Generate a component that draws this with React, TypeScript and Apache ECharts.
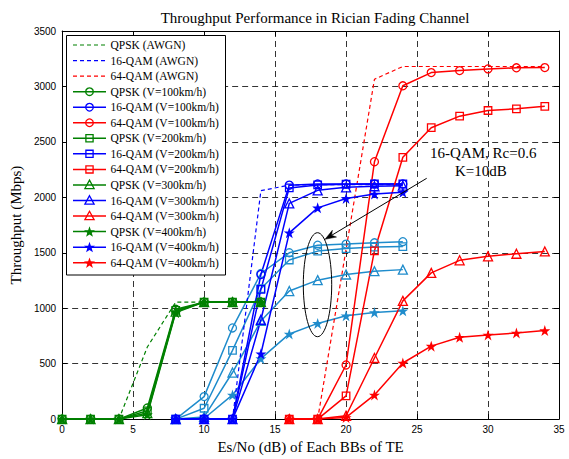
import React, { useEffect, useRef } from 'react';
import * as echarts from 'echarts';

// ---------- data ----------
const xQPSK = [0, 2, 4, 6, 8, 10, 12, 14];
const x16 = [8, 10, 12, 14, 16, 18, 20, 22, 24];
const x64 = [16, 18, 20, 22, 24, 26, 28, 30, 32, 34];

const qpskAwgn = [0, 0, 0, 650, 1055, 1055, 1055, 1055];
const qam16Awgn = [0, 0, 0, 2060, 2110, 2115, 2115, 2115, 2115];
const qam64Awgn = [0, 0, 1530, 3065, 3180, 3180, 3180, 3180, 3180, 3180];

const qpskV100 = [0, 0, 0, 100, 990, 1055, 1055, 1055];
const qpskV200 = [0, 0, 0, 75, 980, 1055, 1055, 1055];
const qpskV300 = [0, 0, 0, 55, 970, 1055, 1055, 1055];
const qpskV400 = [0, 0, 0, 40, 960, 1055, 1055, 1055];

const qam16V100 = [0, 0, 0, 1304, 2110, 2120, 2120, 2120, 2120];
const qam16V200 = [0, 0, 0, 1170, 2085, 2112, 2118, 2120, 2120];
const qam16V300 = [0, 0, 0, 896, 1945, 2063, 2090, 2100, 2105];
const qam16V400 = [0, 0, 0, 589, 1680, 1905, 1990, 2030, 2045];

const qam64V100 = [0, 0, 488, 2321, 3006, 3125, 3143, 3158, 3168, 3170];
const qam64V200 = [0, 0, 209, 1518, 2361, 2628, 2732, 2783, 2798, 2821];
const qam64V300 = [0, 0, 30, 551, 1066, 1319, 1432, 1468, 1491, 1512];
const qam64V400 = [0, 0, 15, 218, 506, 658, 738, 759, 777, 798];

// 16-QAM, Rc=0.6 (annotated group)
const qam16RcV100 = [0, 203, 822, 1313, 1500, 1568, 1578, 1590, 1600];
const qam16RcV200 = [0, 98, 620, 1176, 1435, 1515, 1538, 1551, 1556];
const qam16RcV300 = [0, 20, 420, 885, 1155, 1253, 1304, 1334, 1348];
const qam16RcV400 = [0, 5, 218, 545, 768, 863, 932, 962, 977];

const xTicks = [0, 5, 10, 15, 20, 25, 30, 35];
const yTicks = [0, 500, 1000, 1500, 2000, 2500, 3000, 3500];

const GREEN = '#008000';
const BLUE = '#0000ff';
const RED = '#ff0000';
const LIGHT = '#1f8ccc';

const STAR =
  'path://M50,0 L61.8,35.1 L98.9,35.1 L69.1,56.7 L80.9,91.9 L50,70.2 L19.1,91.9 L30.9,56.7 L1.1,35.1 L38.2,35.1 Z';

type Mk = 'none' | 'circle' | 'rect' | 'triangle' | 'star';

interface SDef {
  name: string;
  x: number[];
  y: number[];
  color: string;
  mk: Mk;
  dashed?: boolean;
  legend?: boolean;
}

const seriesDefs: SDef[] = [
  { name: 'Rc0.6 circle', x: x16, y: qam16RcV100, color: LIGHT, mk: 'circle' },
  { name: 'Rc0.6 square', x: x16, y: qam16RcV200, color: LIGHT, mk: 'rect' },
  { name: 'Rc0.6 triangle', x: x16, y: qam16RcV300, color: LIGHT, mk: 'triangle' },
  { name: 'Rc0.6 star', x: x16, y: qam16RcV400, color: LIGHT, mk: 'star' },
  { name: 'QPSK (AWGN)', x: xQPSK, y: qpskAwgn, color: GREEN, mk: 'none', dashed: true, legend: true },
  { name: '16-QAM (AWGN)', x: x16, y: qam16Awgn, color: BLUE, mk: 'none', dashed: true, legend: true },
  { name: '64-QAM (AWGN)', x: x64, y: qam64Awgn, color: RED, mk: 'none', dashed: true, legend: true },
  { name: 'QPSK (V=100km/h)', x: xQPSK, y: qpskV100, color: GREEN, mk: 'circle', legend: true },
  { name: '16-QAM (V=100km/h)', x: x16, y: qam16V100, color: BLUE, mk: 'circle', legend: true },
  { name: '64-QAM (V=100km/h)', x: x64, y: qam64V100, color: RED, mk: 'circle', legend: true },
  { name: 'QPSK (V=200km/h)', x: xQPSK, y: qpskV200, color: GREEN, mk: 'rect', legend: true },
  { name: '16-QAM (V=200km/h)', x: x16, y: qam16V200, color: BLUE, mk: 'rect', legend: true },
  { name: '64-QAM (V=200km/h)', x: x64, y: qam64V200, color: RED, mk: 'rect', legend: true },
  { name: 'QPSK (V=300km/h)', x: xQPSK, y: qpskV300, color: GREEN, mk: 'triangle', legend: true },
  { name: '16-QAM (V=300km/h)', x: x16, y: qam16V300, color: BLUE, mk: 'triangle', legend: true },
  { name: '64-QAM (V=300km/h)', x: x64, y: qam64V300, color: RED, mk: 'triangle', legend: true },
  { name: 'QPSK (V=400km/h)', x: xQPSK, y: qpskV400, color: GREEN, mk: 'star', legend: true },
  { name: '16-QAM (V=400km/h)', x: x16, y: qam16V400, color: BLUE, mk: 'star', legend: true },
  { name: '64-QAM (V=400km/h)', x: x64, y: qam64V400, color: RED, mk: 'star', legend: true },
];

const SERIF = '"Liberation Serif", "Times New Roman", serif';
const SANS = '"Liberation Sans", Arial, sans-serif';

function symbolFor(mk: Mk) {
  if (mk === 'star') return STAR;
  return mk;
}
function sizeFor(mk: Mk) {
  switch (mk) {
    case 'circle':
      return 8;
    case 'rect':
      return 7.5;
    case 'triangle':
      return 9;
    case 'star':
      return 11;
    default:
      return 0;
  }
}

function buildSeries() {
  return seriesDefs.map((d) => {
    const hollow = d.mk !== 'star';
    return {
      type: 'line',
      name: d.name,
      data: d.x.map((xv, i) => [xv, d.y[i]]),
      symbol: d.mk === 'none' ? 'none' : symbolFor(d.mk),
      symbolSize: sizeFor(d.mk),
      showSymbol: d.mk !== 'none',
      lineStyle: {
        color: d.color,
        width: d.dashed ? 1.2 : 1.5,
        type: d.dashed ? [4, 3] : 'solid',
      },
      itemStyle: hollow
        ? { color: 'rgba(0,0,0,0)', borderColor: d.color, borderWidth: 1.3 }
        : { color: d.color, borderColor: d.color, borderWidth: 0 },
      emphasis: { disabled: true },
      silent: true,
    };
  });
}

function starPoints(cx: number, cy: number, R: number) {
  const pts: number[][] = [];
  const r = R * 0.4;
  for (let i = 0; i < 10; i++) {
    const rad = i % 2 === 0 ? R : r;
    const a = -Math.PI / 2 + (i * Math.PI) / 5;
    pts.push([cx + rad * Math.cos(a), cy + rad * Math.sin(a)]);
  }
  return pts;
}

function buildLegend() {
  const items: any[] = [];
  const boxX = 66.5;
  const boxY = 35.5;
  const boxW = 159;
  const boxH = 239.5;
  items.push({
    type: 'rect',
    shape: { x: boxX, y: boxY, width: boxW, height: boxH },
    style: { fill: '#fff', stroke: '#000', lineWidth: 1 },
    z: 100,
  });
  const legendDefs = seriesDefs.filter((d) => d.legend);
  const x1 = 73;
  const x2 = 106;
  const cx = (x1 + x2) / 2;
  legendDefs.forEach((d, i) => {
    const y = 45 + i * 15.55;
    items.push({
      type: 'line',
      shape: { x1, y1: y, x2, y2: y },
      style: {
        stroke: d.color,
        lineWidth: d.dashed ? 1.2 : 1.5,
        lineDash: d.dashed ? [4, 3] : null,
      },
      z: 101,
    });
    const st = { fill: 'none', stroke: d.color, lineWidth: 1.3 };
    if (d.mk === 'circle') {
      items.push({ type: 'circle', shape: { cx, cy: y, r: 3.8 }, style: st, z: 102 });
    } else if (d.mk === 'rect') {
      items.push({ type: 'rect', shape: { x: cx - 3.6, y: y - 3.6, width: 7.2, height: 7.2 }, style: st, z: 102 });
    } else if (d.mk === 'triangle') {
      items.push({
        type: 'polygon',
        shape: { points: [[cx, y - 4.8], [cx + 4.6, y + 3.6], [cx - 4.6, y + 3.6]] },
        style: st,
        z: 102,
      });
    } else if (d.mk === 'star') {
      items.push({
        type: 'polygon',
        shape: { points: starPoints(cx, y + 0.5, 5.8) },
        style: { fill: d.color, stroke: d.color, lineWidth: 0 },
        z: 102,
      });
    }
    items.push({
      type: 'text',
      x: 110.5,
      y,
      style: {
        text: d.name,
        fill: '#000',
        font: `11.5px ${SERIF}`,
        textVerticalAlign: 'middle',
        verticalAlign: 'middle',
      },
      z: 102,
    });
  });
  return items;
}

function buildAnnotation() {
  const tip = [325, 239.3];
  const start = [426.7, 178.3];
  const dx = tip[0] - start[0];
  const dy = tip[1] - start[1];
  const len = Math.sqrt(dx * dx + dy * dy);
  const ux = dx / len;
  const uy = dy / len;
  const hl = 11;
  const hw = 4;
  const bx = tip[0] - ux * hl;
  const by = tip[1] - uy * hl;
  const nx = -uy;
  const ny = ux;
  const notchX = tip[0] - ux * hl * 0.7;
  const notchY = tip[1] - uy * hl * 0.7;
  return [
    {
      type: 'ellipse',
      shape: { cx: 317.5, cy: 284.7, rx: 14.2, ry: 52 },
      style: { fill: 'none', stroke: '#000', lineWidth: 1 },
      z: 90,
    },
    {
      type: 'line',
      shape: { x1: start[0], y1: start[1], x2: notchX, y2: notchY },
      style: { stroke: '#000', lineWidth: 1 },
      z: 90,
    },
    {
      type: 'polygon',
      shape: {
        points: [
          [tip[0], tip[1]],
          [bx + nx * hw, by + ny * hw],
          [notchX, notchY],
          [bx - nx * hw, by - ny * hw],
        ],
      },
      style: { fill: '#000', stroke: '#000', lineWidth: 0.5 },
      z: 90,
    },
    {
      type: 'text',
      x: 483.3,
      y: 153.3,
      style: {
        text: '16-QAM, Rc=0.6',
        fill: '#000',
        font: `15px ${SERIF}`,
        align: 'center',
        verticalAlign: 'middle',
      },
      z: 90,
    },
    {
      type: 'text',
      x: 480.8,
      y: 170.5,
      style: {
        text: 'K=10dB',
        fill: '#000',
        font: `15px ${SERIF}`,
        align: 'center',
        verticalAlign: 'middle',
      },
      z: 90,
    },
  ];
}

export default function App() {
  const ref = useRef<HTMLDivElement>(null);
  useEffect(() => {
    if (!ref.current) return;
    const chart = echarts.init(ref.current, undefined, { renderer: 'svg' });
    const tickLine = { show: true, inside: true, length: 5, lineStyle: { color: '#000', width: 1 } };
    const axLine = { show: true, onZero: false, lineStyle: { color: '#000', width: 1 } };
    const split = { show: true, lineStyle: { color: '#000', width: 0.8, type: [6, 4] } };
    const option: any = {
      animation: false,
      backgroundColor: '#fff',
      title: {
        text: 'Throughput Performance in Rician Fading Channel',
        left: 310,
        top: 5,
        textAlign: 'center',
        textStyle: { fontFamily: SERIF, fontSize: 15, fontWeight: 'normal', color: '#000' },
      },
      grid: { left: 62, right: 10, top: 31, bottom: 36, containLabel: false },
      xAxis: [
        {
          type: 'value',
          min: 0,
          max: 35,
          interval: 5,
          position: 'bottom',
          axisLine: axLine,
          axisTick: tickLine,
          axisLabel: {
            show: true,
            color: '#000',
            fontFamily: SANS,
            fontSize: 10,
            margin: 5,
            formatter: (v: number) => (xTicks.includes(v) ? String(v) : ''),
          },
          splitLine: split,
          name: 'Es/No (dB) of Each BBs of TE',
          nameLocation: 'middle',
          nameGap: 19,
          nameTextStyle: { fontFamily: SERIF, fontSize: 15, color: '#000', verticalAlign: 'top' },
        },
        {
          type: 'value',
          min: 0,
          max: 35,
          interval: 5,
          position: 'top',
          axisLine: axLine,
          axisTick: tickLine,
          axisLabel: { show: false },
          splitLine: { show: false },
        },
      ],
      yAxis: [
        {
          type: 'value',
          min: 0,
          max: 3500,
          interval: 500,
          position: 'left',
          axisLine: axLine,
          axisTick: tickLine,
          axisLabel: {
            show: true,
            color: '#000',
            fontFamily: SANS,
            fontSize: 10,
            margin: 6,
            formatter: (v: number) => (yTicks.includes(v) ? String(v) : ''),
          },
          splitLine: split,
          name: 'Throughput (Mbps)',
          nameLocation: 'middle',
          nameGap: 29,
          nameTextStyle: { fontFamily: SERIF, fontSize: 15, color: '#000' },
        },
        {
          type: 'value',
          min: 0,
          max: 3500,
          interval: 500,
          position: 'right',
          axisLine: axLine,
          axisTick: tickLine,
          axisLabel: { show: false },
          splitLine: { show: false },
        },
      ],
      series: buildSeries(),
      graphic: [...buildLegend(), ...buildAnnotation()],
    };
    chart.setOption(option);
    return () => {
      chart.dispose();
    };
  }, []);
  return <div ref={ref} style={{ width: 569, height: 459, position: 'absolute', left: 0, top: 0 }} />;
}
